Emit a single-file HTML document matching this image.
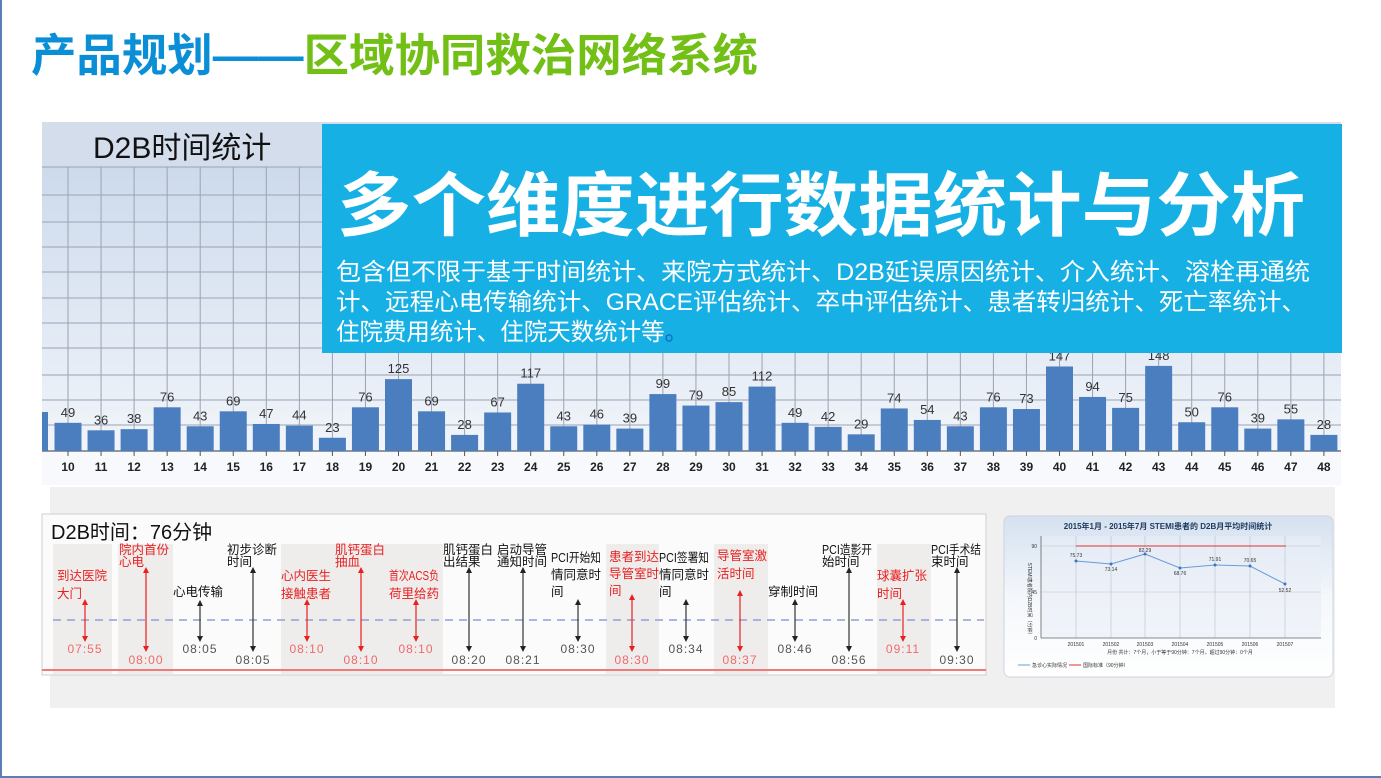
<!DOCTYPE html>
<html><head><meta charset="utf-8"><style>
html,body{margin:0;padding:0;background:#fff;}
body{width:1381px;height:778px;overflow:hidden;position:relative;font-family:"Liberation Sans","Noto Sans CJK SC",sans-serif;}
svg{position:absolute;left:0;top:0;}
</style></head><body>
<svg width="1381" height="778" viewBox="0 0 1381 778" xmlns="http://www.w3.org/2000/svg" font-family="Liberation Sans, Noto Sans CJK SC, sans-serif">
<defs>
<linearGradient id="bg1" x1="0" y1="0" x2="0" y2="1"><stop offset="0" stop-color="#c7d6ea"/><stop offset="1" stop-color="#f6f8fc"/></linearGradient>
<linearGradient id="bg2" x1="0" y1="0" x2="0" y2="1"><stop offset="0" stop-color="#d5e1ef"/><stop offset="0.5" stop-color="#f4f7fb"/><stop offset="1" stop-color="#ffffff"/></linearGradient>
<marker id="ab" viewBox="0 0 6 6" refX="3" refY="3" markerWidth="5" markerHeight="5" orient="auto-start-reverse"><path d="M0,0 L6,3 L0,6 z" fill="#222"/></marker>
<marker id="ar" viewBox="0 0 6 6" refX="3" refY="3" markerWidth="5" markerHeight="5" orient="auto-start-reverse"><path d="M0,0 L6,3 L0,6 z" fill="#e82020"/></marker>
</defs>
<rect x="0" y="0" width="2" height="778" fill="#5b7fb5"/>
<rect x="0" y="776" width="1381" height="2" fill="#5b7fb5"/>
<text x="31" y="71" font-size="45" font-weight="bold" fill="#0a8fd6" textLength="727" lengthAdjust="spacingAndGlyphs">产品规划——<tspan fill="#72bf16">区域协同救治网络系统</tspan></text>

<rect x="42" y="122" width="1299" height="363" fill="url(#bg1)"/>
<rect x="42" y="122" width="1299" height="45" fill="#d3ddec"/>
<text x="93" y="158" font-size="30" fill="#111">D2B时间统计</text>
<g stroke="#9aa3b2" stroke-width="1">
<line x1="42" y1="167" x2="1341" y2="167"/><line x1="42" y1="195" x2="1341" y2="195"/><line x1="42" y1="222" x2="1341" y2="222"/><line x1="42" y1="247" x2="1341" y2="247"/><line x1="42" y1="272" x2="1341" y2="272"/><line x1="42" y1="298" x2="1341" y2="298"/><line x1="42" y1="323" x2="1341" y2="323"/><line x1="42" y1="348" x2="1341" y2="348"/><line x1="42" y1="375" x2="1341" y2="375"/><line x1="42" y1="400" x2="1341" y2="400"/><line x1="42" y1="425" x2="1341" y2="425"/>
</g>
<g id="vg" stroke="#9aa3b2" stroke-width="1"></g>
<line x1="42" y1="451" x2="1341" y2="451" stroke="#777" stroke-width="1.5"/>
<rect x="42" y="452" width="1299" height="33" fill="#f7f9fc"/>
<rect x="42" y="412" width="6" height="39" fill="#4a7ebf"/>
<g id="bars"></g>

<rect x="322" y="124" width="1020" height="229" fill="#17b0e4"/>
<text x="337" y="230" font-size="70" font-weight="bold" fill="#fff" textLength="968" lengthAdjust="spacingAndGlyphs">多个维度进行数据统计与分析</text>
<g font-size="24" fill="#fff">
<text x="336" y="280" textLength="974" lengthAdjust="spacingAndGlyphs">包含但不限于基于时间统计、来院方式统计、D2B延误原因统计、介入统计、溶栓再通统</text>
<text x="336" y="310" textLength="970" lengthAdjust="spacingAndGlyphs">计、远程心电传输统计、GRACE评估统计、卒中评估统计、患者转归统计、死亡率统计、</text>
<text x="336" y="340" textLength="352" lengthAdjust="spacingAndGlyphs">住院费用统计、住院天数统计等<tspan fill="#1565c0">。</tspan></text>
</g>

<rect x="50" y="487" width="1285" height="221" fill="#f0f0f0"/>
<rect x="42" y="514" width="944" height="161" fill="#fbfbfb" stroke="#cfcfcf"/>
<g fill="#efecec">
<rect x="53" y="544" width="59" height="130"/><rect x="118" y="544" width="55" height="130"/>
<rect x="281" y="544" width="162" height="130"/><rect x="606" y="544" width="53" height="130"/>
<rect x="714" y="544" width="54" height="130"/><rect x="877" y="544" width="54" height="130"/>
</g>
<text x="51" y="539" font-size="20" fill="#111">D2B时间：76分钟</text>
<line x1="53" y1="620" x2="984" y2="620" stroke="#8fa0d8" stroke-width="1.5" stroke-dasharray="8,6"/>
<line x1="42" y1="670" x2="986" y2="670" stroke="#ee7a7a" stroke-width="2"/>
<g id="tl" font-size="13"></g>

<rect x="1004" y="516" width="329" height="161" rx="6" fill="url(#bg2)" stroke="#cdd5e0"/>
<text x="1168" y="529" font-size="8" font-weight="bold" fill="#1f3a60" text-anchor="middle">2015年1月 - 2015年7月 STEMI患者的 D2B月平均时间统计</text>
<rect x="1041" y="536" width="280" height="102" fill="#e9eef6" opacity="0.6"/>
<g stroke="#b8c2d0" stroke-width="0.6">
<line x1="1041" y1="546" x2="1321" y2="546"/><line x1="1041" y1="592" x2="1321" y2="592"/>
<line x1="1076" y1="536" x2="1076" y2="638"/><line x1="1111" y1="536" x2="1111" y2="638"/><line x1="1145" y1="536" x2="1145" y2="638"/><line x1="1180" y1="536" x2="1180" y2="638"/><line x1="1215" y1="536" x2="1215" y2="638"/><line x1="1250" y1="536" x2="1250" y2="638"/><line x1="1285" y1="536" x2="1285" y2="638"/>
</g>
<line x1="1041" y1="638" x2="1321" y2="638" stroke="#666" stroke-width="0.8"/>
<line x1="1041" y1="536" x2="1041" y2="638" stroke="#666" stroke-width="0.8"/>
<g font-size="5" fill="#333">
<text x="1037" y="548" text-anchor="end">90</text><text x="1037" y="594" text-anchor="end">45</text><text x="1037" y="640" text-anchor="end">0</text>
<text x="1076" y="646" text-anchor="middle">201501</text><text x="1111" y="646" text-anchor="middle">201502</text><text x="1145" y="646" text-anchor="middle">201503</text><text x="1180" y="646" text-anchor="middle">201504</text><text x="1215" y="646" text-anchor="middle">201505</text><text x="1250" y="646" text-anchor="middle">201506</text><text x="1285" y="646" text-anchor="middle">201507</text>
<text x="1180" y="654" text-anchor="middle">月份 共计：7个月，小于等于90分钟：7个月，超过90分钟：0个月</text>
<text x="1076" y="557" text-anchor="middle">75.73</text><text x="1111" y="571" text-anchor="middle">73.14</text><text x="1145" y="552" text-anchor="middle">82.29</text><text x="1180" y="575" text-anchor="middle">68.76</text><text x="1215" y="561" text-anchor="middle">71.91</text><text x="1250" y="562" text-anchor="middle">70.65</text><text x="1285" y="592" text-anchor="middle">52.52</text>
<text x="1028" y="600" transform="rotate(90 1028 600)" text-anchor="middle">STEMI患者院内D2B时间（分钟）</text>
<text x="1032" y="667">急诊心实际情况</text><text x="1083" y="667">国际标准（90分钟）</text>
</g>
<line x1="1018" y1="665" x2="1030" y2="665" stroke="#6a9ad8"/>
<line x1="1069" y1="665" x2="1081" y2="665" stroke="#d33"/>
<line x1="1076" y1="546" x2="1286" y2="546" stroke="#d33" stroke-width="1"/>
<polyline points="1076,561 1111,564 1145,554 1180,568 1215,565 1250,566 1285,584" fill="none" stroke="#6a9ad8" stroke-width="1"/>
<g fill="#3b74c8"><circle cx="1076" cy="561" r="1.5"/><circle cx="1111" cy="564" r="1.5"/><circle cx="1145" cy="554" r="1.5"/><circle cx="1180" cy="568" r="1.5"/><circle cx="1215" cy="565" r="1.5"/><circle cx="1250" cy="566" r="1.5"/><circle cx="1285" cy="584" r="1.5"/></g>
</svg>
<script>
var NS="http://www.w3.org/2000/svg";
function el(t,a,p,txt){var e=document.createElementNS(NS,t);for(var k in a)e.setAttribute(k,a[k]);if(txt!=null)e.textContent=txt;p.appendChild(e);return e;}
var vals=[49,36,38,76,43,69,47,44,23,76,125,69,28,67,117,43,46,39,99,79,85,112,49,42,29,74,54,43,76,73,147,94,75,148,50,76,39,55,28];
var vg=document.getElementById('vg'),bars=document.getElementById('bars');
for(var i=0;i<vals.length;i++){
 var x=68+33.05*i;
 el('line',{x1:x,y1:167,x2:x,y2:451},vg);
 el('line',{x1:x,y1:451,x2:x,y2:456,stroke:'#555'},bars);
 var h=vals[i]*0.575;
 el('rect',{x:x-13.5,y:451-h,width:27,height:h,fill:'#4a7ebf'},bars);
 el('text',{x:x,y:451-h-6,'font-size':13,fill:'#333','text-anchor':'middle'},bars,vals[i]);
 el('text',{x:x,y:471,'font-size':12,'font-weight':'bold',fill:'#222','text-anchor':'middle'},bars,i+10);
}
var tl=document.getElementById('tl');
var items=[
[57,["到达医院","大门"],1,580,18,85,599,642,"07:55",653],
[119,["院内首份","心电"],1,554,12,146,567,652,"08:00",664],
[173,["心电传输"],0,596,18,200,600,642,"08:05",653],
[227,["初步诊断","时间"],0,554,12,253,567,652,"08:05",664],
[281,["心内医生","接触患者"],1,580,18,307,599,642,"08:10",653],
[335,["肌钙蛋白","抽血"],1,554,12,361,567,652,"08:10",664],
[389,["首次ACS负","荷里给药"],1,580,18,416,599,642,"08:10",653],
[443,["肌钙蛋白","出结果"],0,554,12,469,567,652,"08:20",664],
[497,["启动导管","通知时间"],0,554,12,523,567,652,"08:21",664],
[551,["PCI开始知","情同意时","间"],0,562,17,578,599,642,"08:30",653],
[609,["患者到达","导管室时","间"],1,561,17,632,594,652,"08:30",664],
[659,["PCI签署知","情同意时","间"],0,562,17,686,599,642,"08:34",653],
[717,["导管室激","活时间"],1,560,18,740,590,652,"08:37",664],
[768,["穿制时间"],0,596,18,795,599,642,"08:46",653],
[822,["PCI造影开","始时间"],0,554,12,849,567,652,"08:56",664],
[877,["球囊扩张","时间"],1,580,18,903,599,642,"09:11",653],
[931,["PCI手术结","束时间"],0,554,12,957,567,652,"09:30",664]
];
items.forEach(function(it){
 var c=it[2]?'#e82020':'#111';
 it[1].forEach(function(s,j){
  var a={x:it[0],y:it[3]+j*it[4],fill:c,'font-size':12.5};
  var n=s.replace(/[A-Z]/g,'').length, m=s.length-n;
  var w=n*13+m*8; if(w>50){a.textLength=50;a.lengthAdjust='spacingAndGlyphs';}
  el('text',a,tl,s);});
 el('line',{x1:it[5],y1:it[6]+3,x2:it[5],y2:it[7]-3,stroke:it[2]?'#e82020':'#333','stroke-width':1.2,'marker-start':it[2]?'url(#ar)':'url(#ab)','marker-end':it[2]?'url(#ar)':'url(#ab)'},tl);
 el('text',{x:it[5],y:it[9],fill:it[2]?'#f06a6a':'#555','font-size':12,'text-anchor':'middle','letter-spacing':'1'},tl,it[8]);
});
</script>
</body></html>
